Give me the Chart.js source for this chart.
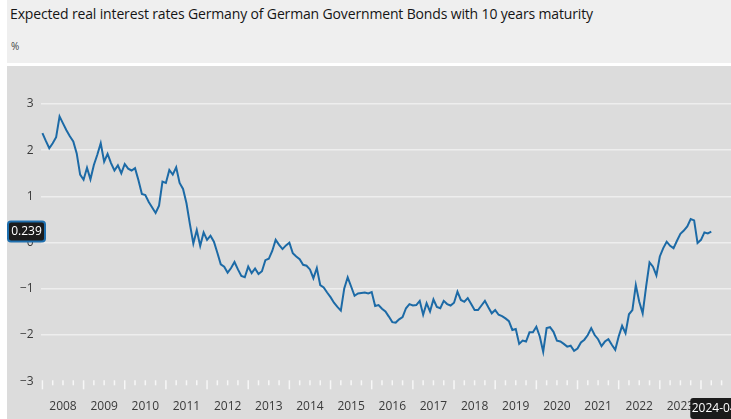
<!DOCTYPE html>
<html lang="en">
<head>
    <meta charset="UTF-8">
    <title>Expected real interest rates Germany</title>
    <script src="https://cdn.jsdelivr.net/npm/chart.js"></script>
    <style>
        body {
            margin: 0;
            background: #ffffff;
            width: 731px;
            height: 419px;
            overflow: hidden;
            position: relative;
            font-family: "Open Sans", Arial, sans-serif;
        }

        #head {
            position: absolute;
            left: 7px;
            top: 0;
            width: 724px;
            height: 63px;
            background: #efefef;
        }

        #title {
            position: absolute;
            left: 3px;
            top: 4px;
            font-size: 14px;
            letter-spacing: -0.15px;
            color: #151515;
            white-space: nowrap;
        }

        #unit {
            position: absolute;
            left: 4px;
            top: 39px;
            font-size: 10px;
            color: #444;
        }

        #panel {
            position: absolute;
            left: 7px;
            top: 66px;
            width: 724px;
            height: 353px;
            background: #dcdcdc;
        }
    </style>
</head>
<body>

    <div id="head">
        <div id="title">Expected real interest rates Germany of German Government Bonds with 10 years maturity</div>
        <div id="unit">%</div>
    </div>
    <div id="panel">
        <canvas id="myChart" width="724" height="353"></canvas>
    </div>

    <script>
        // monthly values, Jan 2008 .. Apr 2024
        const startYear = 2008;
        const realRates = [
            2.37, 2.20, 2.04, 2.15, 2.28, 2.73, 2.58, 2.43, 2.30, 2.19, 1.93, 1.47,         // 2008
            1.36, 1.62, 1.37, 1.68, 1.90, 2.15, 1.75, 1.92, 1.72, 1.56, 1.67, 1.50,         // 2009
            1.70, 1.60, 1.56, 1.61, 1.35, 1.05, 1.03, 0.88, 0.76, 0.64, 0.80, 1.32,         // 2010
            1.29, 1.57, 1.47, 1.63, 1.29, 1.16, 0.85, 0.40, -0.02, 0.27, -0.07, 0.22,       // 2011
            0.06, 0.15, 0.02, -0.22, -0.47, -0.52, -0.65, -0.55, -0.42, -0.58, -0.72, -0.75, // 2012
            -0.52, -0.66, -0.56, -0.68, -0.62, -0.38, -0.35, -0.18, 0.06, -0.05, -0.14, -0.06, // 2013
            0.00, -0.23, -0.30, -0.36, -0.48, -0.50, -0.58, -0.77, -0.55, -0.92, -0.97, -1.08, // 2014
            -1.18, -1.30, -1.39, -1.47, -0.99, -0.75, -0.95, -1.15, -1.10, -1.09, -1.08, -1.10, // 2015
            -1.07, -1.37, -1.35, -1.43, -1.49, -1.60, -1.72, -1.73, -1.66, -1.61, -1.42, -1.33, // 2016
            -1.36, -1.35, -1.26, -1.56, -1.31, -1.49, -1.23, -1.39, -1.42, -1.26, -1.33, -1.36, // 2017
            -1.30, -1.06, -1.24, -1.28, -1.20, -1.33, -1.46, -1.46, -1.36, -1.26, -1.40, -1.53, // 2018
            -1.46, -1.56, -1.59, -1.64, -1.70, -1.89, -1.87, -2.19, -2.12, -2.14, -1.94, -1.94, // 2019
            -1.82, -2.03, -2.36, -1.85, -1.83, -1.93, -2.12, -2.14, -2.19, -2.25, -2.23, -2.34, // 2020
            -2.29, -2.16, -2.10, -2.00, -1.85, -2.00, -2.09, -2.24, -2.14, -2.09, -2.21, -2.32, // 2021
            -2.03, -1.80, -1.96, -1.55, -1.46, -0.92, -1.28, -1.53, -0.95, -0.43, -0.52, -0.71, // 2022
            -0.30, -0.12, 0.02, -0.07, -0.12, 0.04, 0.19, 0.26, 0.35, 0.51, 0.48, -0.01,    // 2023
            0.06, 0.22, 0.20, 0.239                                                          // 2024
        ];
        const yearLabels = ['2008', '2009', '2010', '2011', '2012', '2013', '2014', '2015',
            '2016', '2017', '2018', '2019', '2020', '2021', '2022', '2023', '2024'];
        const yTicks = [-3, -2, -1, 0, 1, 2, 3];
        const lastLabel = '2024-04';

        const monthLabels = realRates.map((v, i) => {
            const y = startYear + Math.floor(i / 12);
            const m = (i % 12) + 1;
            return y + '-' + (m < 10 ? '0' + m : m);
        });

        // quarter ticks on the month index scale
        const quarterTicks = [];
        for (let i = 0; i <= yearLabels.length * 12; i += 3) {
            quarterTicks.push(i);
        }

        const tickMarks = {
            id: 'tickMarks',
            afterDraw(chart) {
                const ctx = chart.ctx;
                const x = chart.scales.x;
                const bottom = chart.chartArea.bottom;
                ctx.save();
                ctx.strokeStyle = '#f7f7f7';
                ctx.lineWidth = 1.5;
                quarterTicks.forEach(q => {
                    const px = x.getPixelForValue(q);
                    if (px < chart.chartArea.left || px > chart.chartArea.right) return;
                    ctx.beginPath();
                    ctx.moveTo(px, bottom - 1);
                    ctx.lineTo(px, bottom + (q % 12 === 0 ? 8 : 4));
                    ctx.stroke();
                });
                ctx.restore();
            }
        };

        function roundRect(ctx, x, y, w, h, r) {
            ctx.beginPath();
            ctx.moveTo(x + r, y);
            ctx.lineTo(x + w - r, y);
            ctx.quadraticCurveTo(x + w, y, x + w, y + r);
            ctx.lineTo(x + w, y + h - r);
            ctx.quadraticCurveTo(x + w, y + h, x + w - r, y + h);
            ctx.lineTo(x + r, y + h);
            ctx.quadraticCurveTo(x, y + h, x, y + h - r);
            ctx.lineTo(x, y + r);
            ctx.quadraticCurveTo(x, y, x + r, y);
            ctx.closePath();
        }

        // crosshair labels for the last point
        const crossLabels = {
            id: 'crossLabels',
            afterDraw(chart) {
                const ctx = chart.ctx;
                const last = realRates.length - 1;
                const py = chart.scales.y.getPixelForValue(realRates[last]);
                const px = chart.scales.x.getPixelForValue(last);
                ctx.save();
                ctx.font = '12px "Open Sans", Arial, sans-serif';
                ctx.textAlign = 'center';
                ctx.textBaseline = 'middle';

                roundRect(ctx, 1, py - 10, 37, 20, 3);
                ctx.fillStyle = '#1b1b1b';
                ctx.fill();
                ctx.lineWidth = 2;
                ctx.strokeStyle = '#1f6fae';
                ctx.stroke();
                ctx.fillStyle = '#ffffff';
                ctx.fillText(String(realRates[last]), 19.5, py);

                roundRect(ctx, px - 21, 332, 46, 21, 3);
                ctx.fillStyle = '#1b1b1b';
                ctx.fill();
                ctx.fillStyle = '#ffffff';
                ctx.fillText(lastLabel, px + 3, 342.5);
                ctx.restore();
            }
        };

        const ctx = document.getElementById('myChart').getContext('2d');
        const myChart = new Chart(ctx, {
            type: 'line',
            data: {
                labels: monthLabels,
                datasets: [{
                    data: realRates.map((v, i) => ({ x: i, y: v })),
                    borderColor: '#1c6aa6',
                    borderWidth: 2,
                    pointRadius: 0,
                    tension: 0,
                    fill: false
                }]
            },
            options: {
                responsive: false,
                animation: false,
                layout: { padding: 0 },
                plugins: {
                    legend: { display: false },
                    tooltip: { enabled: false }
                },
                scales: {
                    x: {
                        type: 'linear',
                        min: -0.5,
                        max: 200.75,
                        afterBuildTicks: scale => {
                            scale.ticks = quarterTicks.map(v => ({ value: v }));
                        },
                        afterFit: scale => {
                            scale.height = 37.7;
                            scale.paddingLeft = 0;
                            scale.paddingRight = 0;
                        },
                        grid: { display: true, drawOnChartArea: false, drawTicks: false },
                        border: { display: false },
                        ticks: {
                            autoSkip: false,
                            maxRotation: 0,
                            padding: 18.5,
                            color: '#3a3a3a',
                            font: { family: '"Open Sans", Arial, sans-serif', size: 12 },
                            callback: v => (v % 12 === 6 ? yearLabels[(v - 6) / 12] : '')
                        }
                    },
                    y: {
                        min: -3,
                        max: 3.82,
                        afterBuildTicks: scale => {
                            scale.ticks = yTicks.map(v => ({ value: v }));
                        },
                        afterFit: scale => {
                            scale.width = 33.7;
                            scale.paddingTop = 0;
                            scale.paddingBottom = 0;
                        },
                        grid: {
                            drawTicks: false,
                            lineWidth: 1.5,
                            color: c => (c.tick && c.tick.value === -3 ? 'rgba(0,0,0,0)' : '#eeeeee')
                        },
                        border: { display: false },
                        ticks: {
                            padding: 7,
                            color: '#3a3a3a',
                            font: { family: '"Open Sans", Arial, sans-serif', size: 12 },
                            callback: v => String(v).replace('-', '\u2212')
                        }
                    }
                }
            },
            plugins: [tickMarks, crossLabels]
        });
    </script>

</body>
</html>
